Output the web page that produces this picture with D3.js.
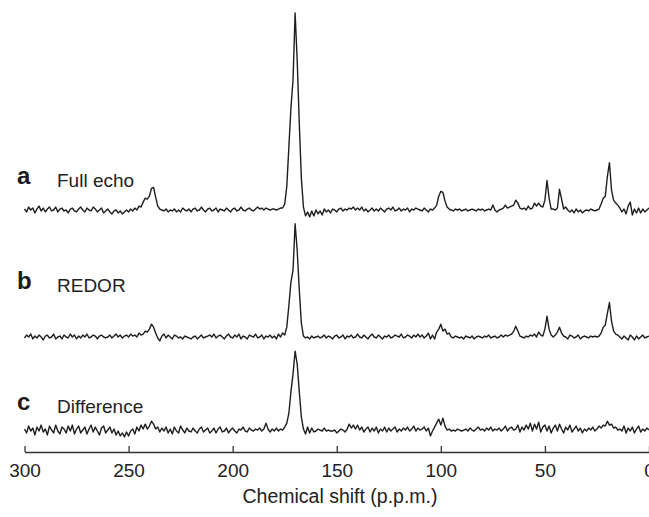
<!DOCTYPE html>
<html>
<head>
<meta charset="utf-8">
<script src="https://cdn.jsdelivr.net/npm/d3@7"></script>
<style>
  body { margin: 0; background: #fff; }
  svg { display: block; font-family: "Liberation Sans", Arial, sans-serif; }
  .trace { fill: none; stroke: #1e1e1e; stroke-width: 1.4; stroke-linejoin: round; }
  .axis path, .axis line { stroke: #333; stroke-width: 1.3; }
  .axis text { font-size: 19px; fill: #222; }
</style>
</head>
<body>
<script>
// Chemical shift grid: 300 ppm down to 0 ppm, one point per ppm
const shifts = d3.range(300, -1, -1);

// Spectrum a: full echo (main peak = 100)
const fullEcho = [
  0.5, -1, 1.5, 0, 1, -1.5, 0.5, 2, -0.5, 1,        // 300-291
  -1, 0.5, 1.5, -0.5, 0, 1.5, -1, 0.5, 1, -0.5,     // 290-281
  0, -1.5, 0.5, 1, -0.5, -1, 0.5, 1.5, 0, -1,       // 280-271
  1, 0, -0.5, 1.5, 0.5, -1, 0, 1, -1.5, -0.5,       // 270-261
  0.5, -1, -2, -0.5, 0, -1.5, -0.5, -2, -1, 0,      // 260-251
  -1, 0.5, -0.5, 1, 0, 2, 1.5, 4, 6, 5.5,           // 250-241
  7, 11, 11.5, 6.5, 2, 0.5, 0, -0.5, 0.5, -1,       // 240-231
  0, -0.5, 0.5, -1, 0, -1, 1, 0, -0.5, 0.5,         // 230-221
  -1, 0.5, 1, -0.5, 0, 1.5, 0, -1, 0.5, 1,          // 220-211
  -0.5, 0, 1, -1, 0.5, 0, -0.5, 1, 0, -1,           // 210-201
  0.5, 1, -0.5, 0, 1.5, 0, -0.5, 0.5, 1, 0,         // 200-191
  -0.5, 0.5, 1.5, 0.5, 1, 0, 1, 0.5, 0, 0.5,        // 190-181
  0.5, 0, 0.5, 1, 1, 3, 12, 32, 52, 66,             // 180-171
  100, 76, 44, 16, 1.5, -3, -1, -3.5, -0.5, -3,     // 170-161
  0, -2, -0.5, -2.5, 0.5, -1, 0, -1.5, 0.5, 0,      // 160-151
  -1, 0.5, 1, -0.5, 0.5, 0, 1, 0.5, 1.5, 0,         // 150-141
  1, 0, 1.5, -0.5, 0.5, -1, 0, 1, -0.5, 0.5,        // 140-131
  -0.5, 1, 0, -1, 0.5, 1, 0, 1.5, -0.5, 0,          // 130-121
  1, -0.5, 0.5, 0, 1, -1, 0.5, 0, 1, 0.5,           // 120-111
  0, -0.5, 1, 0, -1, 0.5, 0, 1, 2.5, 7,             // 110-101
  9.5, 9, 4.5, 1.5, 0.5, 0, -0.5, 0.5, 0, 0.5,      // 100-91
  -0.5, 0, 0.5, -0.5, 0, 0.5, 0, -0.5, 0.5, 0,      // 90-81
  0.5, -0.5, 0, 0.5, 0, 2.5, 0, -1, 0, 0.5,         // 80-71
  1, 2.5, 1, 1.5, 2, 2.5, 5, 3.5, 1, 0.5,           // 70-61
  1, 0, 2, 0.5, 1, 3.5, 2, 3.5, 2, 1.5,             // 60-51
  5, 15, 6, 0.5, 0.5, 0, 1, 10.5, 5.5, 0.5,         // 50-41
  1.5, 0, -1, 0, -1.5, 0.5, -1, 0, -1.5, -0.5,      // 40-31
  0, -0.5, 0.5, 0, -0.5, 0, 0.5, 3, 6, 7,           // 30-21
  17, 24, 10, 5, 3.5, 2.5, 1, -1, 0.5, -2,          // 20-11
  2, 4, -2.5, 0.5, -1.5, 1, -1.5, 0.5, -1, 0,       // 10-1
  1                                                 // 0
];

// Spectrum b: REDOR
const redor = [
  -0.5, 1, 0, 1.5, -1, 0.5, -0.5, 1, 0, -1.5,
  0.5, 1, -0.5, 0, 1.5, -1, 0, 0.5, -1, 1,
  0, -0.5, 1.5, 0, 1, -1, 0.5, -0.5, 1, 0,
  1.5, -0.5, 0, 1, 0.5, -1, 0.5, 1, 0, -0.5,
  0, 1, -0.5, 0.5, 1.5, 0, 1, -0.5, 0.5, 1,
  0, 1.5, 0.5, 1, 0, 2, 1, 1.5, 3, 2.5,
  4, 6.5, 5, 2, -0.5, -2, 0.5, 1.5, -0.5, 1,
  0, -1, 1, 0.5, -0.5, 0, -1, 0.5, 0, -0.5,
  -1, 0, 0.5, -1, 0, 1, -0.5, 0, 0.5, 1,
  0, 1.5, -0.5, 0.5, 1, 0, -1, 0.5, 1.5, 0,
  -0.5, 1, 0, 1.5, -1, 0.5, 0, -1, 1, 0.5,
  0, 1.5, -0.5, 0, 1, -1, 0.5, 0, 1, -0.5,
  0.5, -1, 1.5, 0, 2, 1, 5, 16, 28, 34,
  57.5, 44, 24, 7, 0.5, -0.5, 0, -1, 0.5, -0.5,
  0, 0.5, -0.5, 0, 1, -0.5, 0.5, 0, -1, 0.5,
  1, -0.5, 0, 1, -1, 0.5, 0, 1, -0.5, 0,
  1.5, 0, -0.5, 1, 0, -1, 0.5, 1.5, 0, -0.5,
  1, 0, -1, 0.5, 0, 1, -0.5, 0, 1, 0.5,
  0, 1.5, -0.5, 0, 1, 0.5, -0.5, 1, 0, 1.5,
  0, 1, -0.5, 0.5, 2, -1, 1, -1, 2.5, 4,
  6.5, 3, 4, 1.5, 2, 0, -0.5, 0.5, 0, -0.5,
  0, -1, 0.5, 0, -0.5, 0.5, -1, 0, 0.5, 0,
  -0.5, 0.5, 0, 1, -0.5, 0, 0.5, -0.5, 0, 1,
  0, 1, 0.5, 1, 1.5, 3, 5.5, 3, 0.5, 0,
  -0.5, 0.5, 0, 1, 0.5, 1.5, 0, 2.5, 1, 0.5,
  4, 10.5, 4, 1, 0, 1, 2.5, 5, 2, 0.5,
  0, -1, 1, 0.5, -0.5, 0, 1, -1, 0, 0.5,
  0, -0.5, 0.5, 0, 0.5, 0, 0.5, 2, 5, 6,
  12, 17.5, 8, 3, 1.5, 1, 0, -1, 0.5, -0.5,
  -1.5, 1, 0, -1.5, 0.5, -1, 0, 1, -0.5, 0,
  0.5
];

// Spectrum c: difference
const difference = [
  1, -1, 2.5, 0, 1.5, -2, 2, 0, 3, -0.5,
  1, -2, 2.5, 0.5, -1, 3, 0, -1.5, 2, 1,
  -1, 2.5, 0, 3, -1.5, 1, 2.5, -1, 0.5, 2,
  -1.5, 1, 3, -0.5, 2, 0, -2, 1.5, 2.5, -1,
  0.5, 2, -1, 1, -2, 0, -2.5, -1, -3, -0.5,
  -2.5, 0, 1, -1.5, 2, 0, 3, 1, 3.5, 1,
  2.5, 5, 3.5, 1, 2, -0.5, 1.5, 0, 2, -1,
  1, -1.5, 2, 0, -1, 2.5, 0.5, -1, 1.5, 0,
  -0.5, 1.5, 0, -1, 1, 2, -0.5, 0.5, 1.5, -1,
  0, 1.5, -1, 1, 2, -0.5, 0, 1.5, -1, 0.5,
  1.5, 0, -1, 1, 0.5, 2, 0, -0.5, 1.5, 0.5,
  0, 1, 0.5, 1.5, 0, 1, 4, 1, -0.5, 1,
  0, 1.5, 0, 1, 0.5, 2, 4, 9, 20, 29,
  40.5, 34, 20, 7, 1, -1.5, 2, -1, 1.5, -0.5,
  0, 1, 0.5, 0, 1.5, 0, 0.5, 0, 0, 0.5,
  -1, 0, 1, 0.5, -0.5, 1, 3.5, 1.5, 3, 1,
  3, 0.5, 2, -0.5, 1, 2, -0.5, 1.5, 0, 2,
  -1, 1, 0, 2, -0.5, 1.5, 0, 1, 2, -0.5,
  1, 0, 1.5, 0.5, 2, 0, 1, 2.5, 0, 1.5,
  0.5, 1, 2, 0, 1.5, -2.5, 0, 2, 4, 6,
  3, 6.5, 2.5, 0.5, 1, 0, 0.5, 0, 1, 0.5,
  0, 0.5, 1, 0, 1.5, 0.5, 0, 1, 2, 0.5,
  1, 0, 1.5, 0.5, 2, 0, 1, 0.5, 1.5, 0,
  1, 2.5, 0, 1.5, 2, 0.5, 1, 3, -0.5, 2,
  0.5, 3, 1, 4, 0, 3.5, 1, 4.5, -0.5, 2,
  3, 0, 2.5, -1, 1.5, 3, 0, 3.5, 1, -1,
  2, 0.5, 3, -0.5, 1, 2.5, 0, 1.5, -1, 1,
  0, 1.5, 0.5, 2, 0, 1, 2.5, 1.5, 3, 2.5,
  5, 3, 3.5, 1.5, 2, 0.5, 1, 0, 2.5, -1,
  1.5, 0, 2, -1, 1, 2.5, -0.5, 1, 0, 1.5,
  0.5
];

const panelLetters = ["a", "b", "c"];
const panelNames = ["Full echo", "REDOR", "Difference"];
const tickValues = [300, 250, 200, 150, 100, 50, 0];
const axisTitle = "Chemical shift (p.p.m.)";

const width = 649, height = 517;

// where each trace sits and where its label goes
const layout = [
  { base: 210, labelY: 187 },
  { base: 337, labelY: 292 },
  { base: 431, labelY: 413 }
];
const axisY = 452;

const svg = d3.select("body")
    .append("svg")
    .attr("width", width)
    .attr("height", height);

const x = d3.scaleLinear()
    .domain([300, 0])
    .range([24.5, 649]);

// same vertical scale for all three traces
const amp = d3.scaleLinear()
    .domain([0, 100])
    .range([0, 197]);

const series = [fullEcho, redor, difference];

series.forEach(function(values, i) {
    const base = layout[i].base;
    const line = d3.line()
        .x((d, j) => x(shifts[j]))
        .y(d => base - amp(d));

    svg.append("path")
        .datum(values)
        .attr("class", "trace")
        .attr("d", line);

    svg.append("text")
        .attr("x", 17)
        .attr("y", layout[i].labelY - 3)
        .style("font-size", "24px")
        .style("font-weight", "bold")
        .style("fill", "#1a1a1a")
        .text(panelLetters[i]);

    svg.append("text")
        .attr("x", 57)
        .attr("y", layout[i].labelY)
        .style("font-size", "19px")
        .style("fill", "#222")
        .text(panelNames[i]);
});

// x axis with ticks pointing up
svg.append("g")
    .attr("class", "axis")
    .attr("transform", `translate(0,${axisY})`)
    .call(d3.axisBottom(x)
        .tickValues(tickValues)
        .tickSizeInner(-6)
        .tickSizeOuter(0)
        .tickPadding(12)
        .tickFormat(d3.format("d")))
    .call(g => g.selectAll("text").attr("font-family", null));

svg.append("text")
    .attr("x", 340)
    .attr("y", 503)
    .attr("text-anchor", "middle")
    .style("font-size", "19.5px")
    .style("fill", "#222")
    .text(axisTitle);
</script>
</body>
</html>
